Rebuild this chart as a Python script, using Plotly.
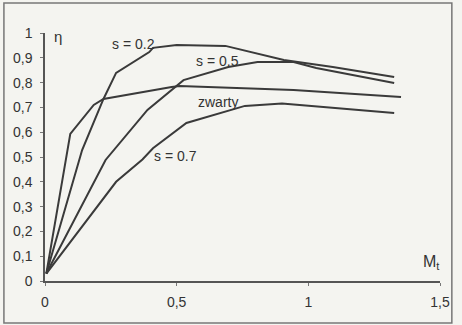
import plotly.graph_objects as go

# Data
x_s02 = [0.005, 0.141, 0.222, 0.27, 0.396, 0.41, 0.5, 0.685, 0.907, 1.093, 1.326]
y_s02 = [0.03, 0.528, 0.734, 0.839, 0.923, 0.94, 0.952, 0.948, 0.891, 0.863, 0.823]

x_zw = [0.005, 0.085, 0.096, 0.185, 0.222, 0.481, 0.511, 0.944, 1.193, 1.352]
y_zw = [0.03, 0.528, 0.593, 0.71, 0.734, 0.782, 0.786, 0.77, 0.754, 0.742]

x_s05 = [0.005, 0.23, 0.389, 0.526, 0.696, 0.807, 0.944, 1.03, 1.326]
y_s05 = [0.03, 0.488, 0.69, 0.81, 0.863, 0.883, 0.883, 0.859, 0.798]

x_s07 = [0.005, 0.27, 0.37, 0.41, 0.537, 0.759, 0.9, 1.1, 1.326]
y_s07 = [0.03, 0.4, 0.49, 0.535, 0.637, 0.706, 0.716, 0.698, 0.677]

x_ticks = [0, 0.5, 1, 1.5]
x_ticklabels = ["0", "0,5", "1", "1,5"]
y_ticks = [0, 0.1, 0.2, 0.3, 0.4, 0.5, 0.6, 0.7, 0.8, 0.9, 1.0]
y_ticklabels = ["0", "0,1", "0,2", "0,3", "0,4", "0,5", "0,6", "0,7", "0,8", "0,9", "1"]

labels = ["s = 0.2", "s = 0.5", "zwarty", "s = 0.7"]
label_x = [0.335, 0.655, 0.658, 0.495]
label_y = [0.955, 0.888, 0.722, 0.505]

font_family = "Liberation Sans, Arial"
line_color = "#3a3a3a"
fig = go.Figure()
for xs, ys, name in [(x_s02, y_s02, labels[0]), (x_s05, y_s05, labels[1]),
                     (x_zw, y_zw, labels[2]), (x_s07, y_s07, labels[3])]:
    fig.add_trace(go.Scatter(x=xs, y=ys, mode="lines", name=name,
                             line=dict(color=line_color, width=2), showlegend=False))

for t, lx, ly in zip(labels, label_x, label_y):
    fig.add_annotation(x=lx, y=ly, text=t, showarrow=False, xref="x", yref="y",
                       font=dict(family=font_family, size=14, color="#333"))

fig.add_annotation(x=0.025, y=0.985, text="η", showarrow=False, xanchor="left", yanchor="middle",
                   font=dict(family=font_family, size=15, color="#333"))
fig.add_annotation(x=1.5, y=0.03, text="M<sub>t</sub>", showarrow=False, xanchor="right", yanchor="bottom",
                   xshift=2, font=dict(family=font_family, size=16, color="#333"))

# outer frame of the scanned figure
fig.add_shape(type="rect", xref="paper", yref="paper", x0=-0.104, x1=1.03, y0=-0.169, y1=1.121,
              line=dict(color="#777", width=1.5), layer="below")

fig.update_xaxes(range=[0, 1.5], tickvals=x_ticks, ticktext=x_ticklabels,
                 showline=True, linecolor="#555", linewidth=1.5, showgrid=False, zeroline=False,
                 ticks="outside", ticklen=3, tickcolor="#777", ticklabelstandoff=4,
                 tickfont=dict(family=font_family, size=14, color="#333"))
fig.update_yaxes(range=[0, 1.0], tickvals=y_ticks, ticktext=y_ticklabels,
                 showline=True, linecolor="#555", linewidth=1.5, showgrid=False, zeroline=False,
                 ticks="outside", ticklen=3, tickcolor="#777", ticklabelstandoff=5,
                 tickfont=dict(family=font_family, size=14, color="#333"))

fig.update_layout(width=462, height=325, margin=dict(l=45, r=13, t=33, b=44),
                  paper_bgcolor="#f4f4f0", plot_bgcolor="#f4f4f0")
fig.write_html("out.html")
